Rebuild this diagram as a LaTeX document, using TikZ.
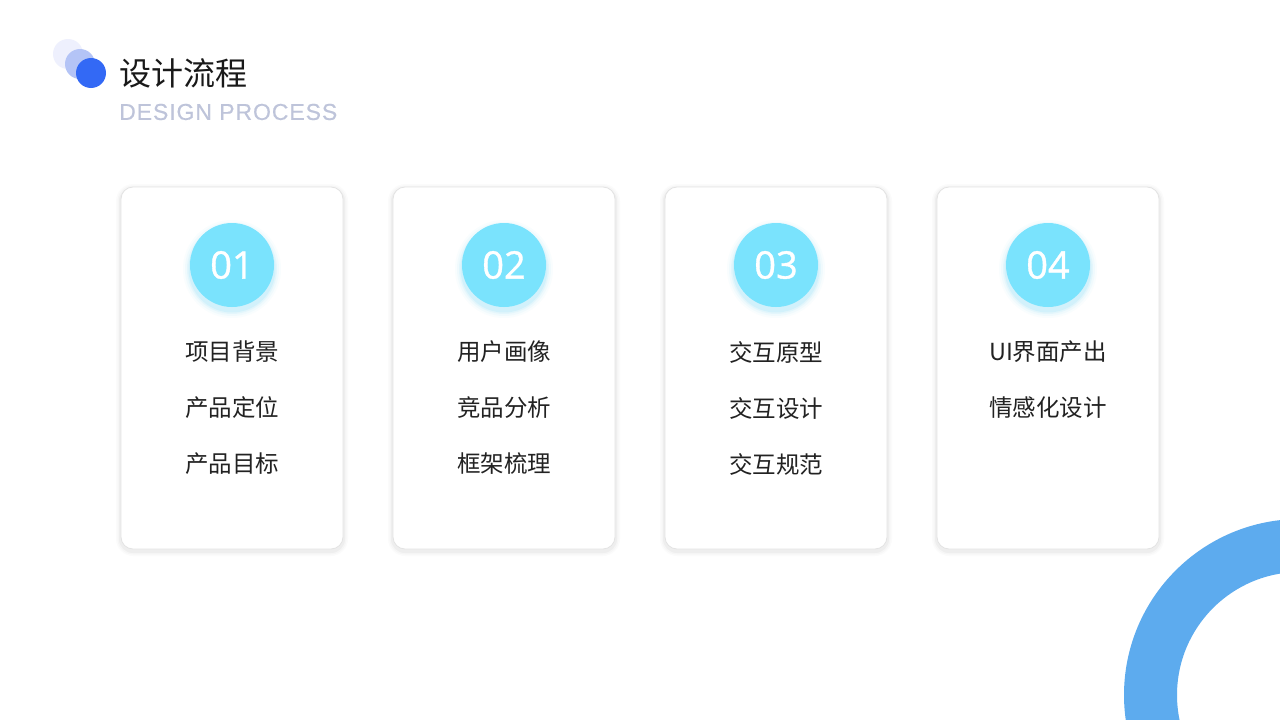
\documentclass[tikz,border=0pt]{standalone}
\usepackage{fontspec}
\setmainfont{Noto Sans CJK SC}
\newfontfamily\latinwide[LetterSpace=4,FakeBold=0.4]{Liberation Sans}
\newfontfamily\digitfont[FakeBold=1]{Open Sans}
\definecolor{ringblue}{HTML}{5DABEE}
\definecolor{dotlight}{HTML}{EEF0FD}
\definecolor{dotmid}{HTML}{B4C4F6}
\definecolor{dotdark}{HTML}{3369F5}
\definecolor{subgray}{HTML}{BEC4DA}
\definecolor{cyanc}{HTML}{7AE3FD}
\definecolor{glow}{HTML}{8ADDFB}
\definecolor{cardline}{HTML}{E3E3E3}
\definecolor{txt}{HTML}{222222}
\tikzset{
  card/.style={draw=cardline, line width=0.8pt, fill=white, rounded corners=12pt,
    minimum width=222pt, minimum height=362pt, inner sep=0pt},
  numdisc/.style={circle, fill=cyanc, minimum size=84pt, inner sep=0pt,
    text=white, font=\digitfont\fontsize{38}{38}\selectfont},
  item/.style={text=txt, font=\fontsize{23.5}{24}\selectfont, inner sep=0pt},
}
\begin{document}
\begin{tikzpicture}[x=1pt,y=-1pt]
\useasboundingbox (0,0) rectangle (1280,720);
\fill[white] (0,0) rectangle (1280,720);
% ring
\begin{scope}
\clip (0,0) rectangle (1280,720);
\fill[ringblue, even odd rule] (1300,695) circle (176) (1300,695) circle (123);
\end{scope}
% logo dots
\fill[dotlight] (68,54) circle (15);
\fill[dotmid] (80,64) circle (15);
\fill[dotdark] (91,73) circle (15);
\node[anchor=west, inner sep=0pt, text=black!90, font=\fontsize{32}{32}\selectfont] (title) at (119,73) {设计流程};
\node[anchor=west, inner sep=0pt, text=subgray, font=\latinwide\fontsize{23}{23}\selectfont] (sub) at (119,112) {DESIGN PROCESS};
% cards
\foreach \i/\num/\a/\b/\c in {0/01/项目背景/产品定位/产品目标, 1/02/用户画像/竞品分析/框架梳理, 2/03/交互原型/交互设计/交互规范, 3/04/UI界面产出/情感化设计/{}}{
  \pgfmathsetmacro{\cx}{232+272*\i}
  \foreach \e/\o in {5/0.015,3.5/0.02,2/0.03}{
    \fill[black, opacity=\o, rounded corners=12pt+\e pt] (\cx-111-\e,187-\e+2) rectangle (\cx+111+\e,549+\e+2);
  }
  \node[card] (card\i) at (\cx,368) {};
  \foreach \r/\o in {49/0.05,47/0.08,45/0.12,43.5/0.18}{
    \fill[glow, opacity=\o] (\cx,269) circle (\r);
  }
  \node[numdisc] (n\i) at (\cx,265) {\num};
  \node[item] (a\i) at (\cx,352) {\a};
  \node[item] (b\i) at (\cx,408) {\b};
  \node[item] (c\i) at (\cx,464) {\c};
}
\end{tikzpicture}
\end{document}
